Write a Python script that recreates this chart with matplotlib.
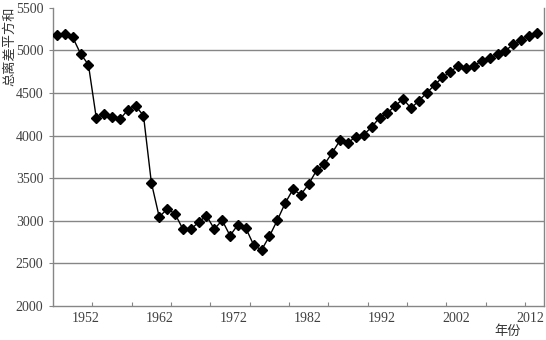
import numpy as np
import matplotlib
matplotlib.use('Agg')
import matplotlib.pyplot as plt

# yearly values
years = list(range(1951, 2013))
values = [5180, 5191, 5153, 4960, 4831, 4206, 4253, 4221, 4190, 4300,
          4347, 4233, 3447, 3044, 3138, 3083, 2903, 2900, 2982, 3060,
          2903, 3005, 2825, 2954, 2915, 2716, 2657, 2818, 3005, 3205,
          3369, 3306, 3431, 3592, 3663, 3800, 3947, 3916, 3987, 4010,
          4100, 4209, 4264, 4350, 4429, 4320, 4409, 4500, 4593, 4683,
          4746, 4820, 4793, 4820, 4875, 4906, 4953, 4995, 5070, 5121,
          5171, 5207]
year_labels = ['1952', '1962', '1972', '1982', '1992', '2002', '2012']
y_ticks = [2000, 2500, 3000, 3500, 4000, 4500, 5000, 5500]

SERIF = 'Liberation Serif'
CJK = ['Noto Sans CJK SC', 'DejaVu Sans']
GRID = '#868686'


def line_chart():
    fig = plt.figure(figsize=(5.46, 3.40), dpi=100)
    ax = fig.add_axes([0.0971, 0.10, 0.8992, 0.8774])

    ax.plot(years, values, color='black', linewidth=1.0, marker='D',
            markersize=4.8, markerfacecolor='black', markeredgecolor='black', zorder=3)

    ax.set_xlim(1950.5, 2012.9)
    ax.set_ylim(2000, 5500)

    # tick marks every 5 years, between categories
    ax.set_xticks(np.arange(1955.5, 2012, 5))
    ax.set_xticklabels([])
    ax.tick_params(axis='x', which='major', direction='in', length=3, color=GRID, width=0.8)
    # year labels sit on their own (minor) positions
    ax.set_xticks(np.linspace(1954.7, 2011.1, len(year_labels)), minor=True)
    ax.set_xticklabels(year_labels, minor=True, fontfamily=SERIF, fontsize=10, color='#404040')
    ax.tick_params(axis='x', which='minor', length=0, pad=4)

    ax.set_yticks(y_ticks)
    ax.set_yticklabels([str(v) for v in y_ticks], fontfamily=SERIF, fontsize=10, color='#404040')
    ax.tick_params(axis='y', direction='out', length=3, color=GRID, width=0.8, pad=4)

    ax.yaxis.grid(True, color=GRID, linewidth=1.0)
    ax.set_axisbelow(True)
    gl = ax.get_ygridlines()
    gl[0].set_visible(False)
    gl[-1].set_visible(False)

    ax.spines['top'].set_visible(False)
    for side in ['left', 'bottom', 'right']:
        ax.spines[side].set_color(GRID)
        ax.spines[side].set_linewidth(1.0)

    fig.text(10 / 546, 1 - 46 / 340, '总离差平方和', rotation=90, ha='center', va='center',
             family=CJK, fontsize=9.5, color='#333333')
    fig.text(508 / 546, 1 - 331 / 340, '年份', ha='center', va='center',
             family=CJK, fontsize=9.5, color='#333333')

    fig.savefig('out.png', dpi=100)


if __name__ == '__main__':
    line_chart()
